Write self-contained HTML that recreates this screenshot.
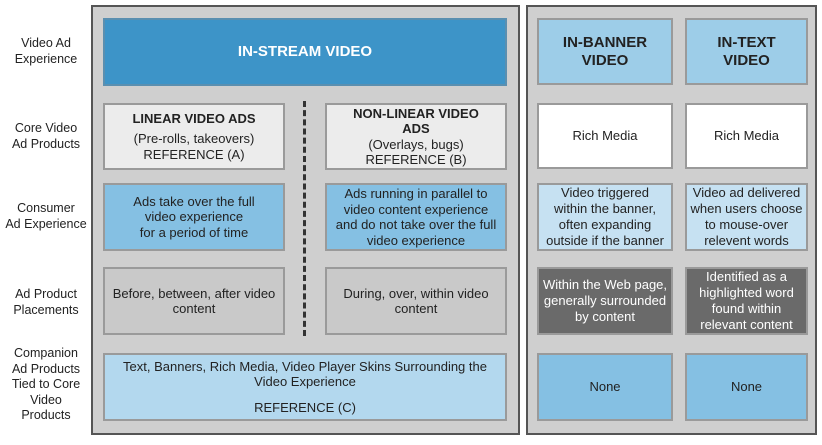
<!DOCTYPE html>
<html><head><meta charset="utf-8"><style>
body{margin:0;width:822px;height:445px;background:#fff;position:relative;font-family:"Liberation Sans",sans-serif;overflow:hidden}
.p{position:absolute;background:#cfcfcf;border:2px solid #555;box-sizing:border-box}
.b{position:absolute;box-sizing:border-box;border:2px solid #9a9a9a;display:flex;flex-direction:column;align-items:center;justify-content:center;text-align:center;font-size:13px;line-height:15.5px;color:#222;white-space:nowrap}
.l{position:absolute;left:0;width:92px;text-align:center;font-size:12.5px;line-height:15.5px;color:#222}
.hb{font-weight:bold}
</style></head><body>
<div class="l" style="top:36px">Video Ad<br>Experience</div>
<div class="l" style="top:121px">Core Video<br>Ad Products</div>
<div class="l" style="top:201px">Consumer<br>Ad Experience</div>
<div class="l" style="top:287px">Ad Product<br>Placements</div>
<div class="l" style="top:346px">Companion<br>Ad Products<br>Tied to Core<br>Video<br>Products</div>

<div class="p" style="left:91px;top:5px;width:429px;height:430px"></div>
<div class="p" style="left:526px;top:5px;width:291px;height:430px"></div>

<div class="b" style="left:103px;top:18px;width:404px;height:68px;background:#3d94c8;color:#fff;font-weight:bold;font-size:15px;border-color:#5a8fb0">IN-STREAM VIDEO</div>

<div class="b" style="left:103px;top:103px;width:182px;height:67px;background:#ececec"><span class="hb" style="margin-bottom:5px">LINEAR VIDEO ADS</span>(Pre-rolls, takeovers)<br>REFERENCE (A)</div>
<div class="b" style="left:325px;top:103px;width:182px;height:67px;background:#ececec"><span class="hb">NON-LINEAR VIDEO<br>ADS</span>(Overlays, bugs)<br>REFERENCE (B)</div>

<div class="b" style="left:103px;top:183px;width:182px;height:68px;background:#85c0e3">Ads take over the full<br>video experience<br>for a period of time</div>
<div class="b" style="left:325px;top:183px;width:182px;height:68px;background:#85c0e3">Ads running in parallel to<br>video content experience<br>and do not take over the full<br>video experience</div>

<div class="b" style="left:103px;top:267px;width:182px;height:68px;background:#c9c9c9">Before, between, after video<br>content</div>
<div class="b" style="left:325px;top:267px;width:182px;height:68px;background:#c9c9c9">During, over, within video<br>content</div>

<div class="b" style="left:103px;top:353px;width:404px;height:68px;background:#b3d8ee">Text, Banners, Rich Media, Video Player Skins Surrounding the<br>Video Experience<br><span style="margin-top:10px">REFERENCE (C)</span></div>

<div style="position:absolute;left:303px;top:101px;width:0;height:235px;border-left:3px dashed #333"></div>

<div class="b" style="left:537px;top:18px;width:136px;height:67px;background:#9dcde8;font-weight:bold;font-size:15px;line-height:18px">IN-BANNER<br>VIDEO</div>
<div class="b" style="left:685px;top:18px;width:123px;height:67px;background:#9dcde8;font-weight:bold;font-size:15px;line-height:18px">IN-TEXT<br>VIDEO</div>

<div class="b" style="left:537px;top:103px;width:136px;height:66px;background:#fff">Rich Media</div>
<div class="b" style="left:685px;top:103px;width:123px;height:66px;background:#fff">Rich Media</div>

<div class="b" style="left:537px;top:183px;width:136px;height:68px;background:#c6e1f2;line-height:16px">Video triggered<br>within the banner,<br>often expanding<br>outside if the banner</div>
<div class="b" style="left:685px;top:183px;width:123px;height:68px;background:#c6e1f2;line-height:16px">Video ad delivered<br>when users choose<br>to mouse-over<br>relevent words</div>

<div class="b" style="left:537px;top:267px;width:136px;height:68px;background:#6a6a6a;color:#fff;line-height:16px">Within the Web page,<br>generally surrounded<br>by content</div>
<div class="b" style="left:685px;top:267px;width:123px;height:68px;background:#6a6a6a;color:#fff;line-height:16px">Identified as a<br>highlighted word<br>found within<br>relevant content</div>

<div class="b" style="left:537px;top:353px;width:136px;height:68px;background:#85c0e3">None</div>
<div class="b" style="left:685px;top:353px;width:123px;height:68px;background:#85c0e3">None</div>
</body></html>
